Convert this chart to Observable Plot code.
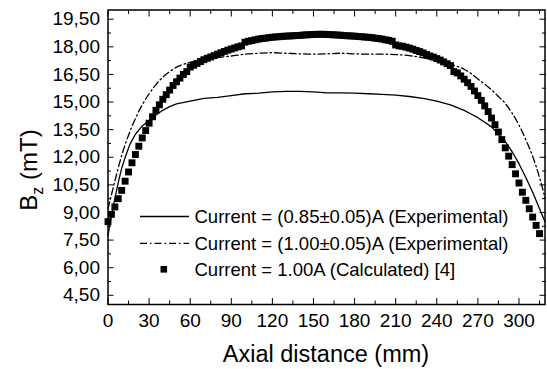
<!DOCTYPE html>
<html><head><meta charset="utf-8">
<script src="https://cdn.jsdelivr.net/npm/d3@7"></script>
<script src="https://cdn.jsdelivr.net/npm/@observablehq/plot@0.6"></script>
<style>body{margin:0;background:#fff}#chart{width:547px;height:369px}</style>
</head><body><div id="chart"></div>
<script>
// Calculated, 1.00 A [4]
const calcX = [0,2.5,5,7.5,10,12.5,15,17.5,20,22.5,25,27.5,30,32.5,35,37.5,40,42.5,45,47.5,50,52.5,55,57.5,60,62.5,65,67.5,70,72.5,75,77.5,80,82.5,85,87.5,90,92.5,95,97.5,
  100,102.5,105,107.5,110,112.5,115,117.5,120,122.5,125,127.5,130,132.5,135,137.5,140,142.5,145,147.5,150,152.5,155,157.5,160,162.5,165,167.5,170,172.5,175,177.5,180,182.5,185,187.5,190,192.5,195,197.5,200,202.5,205,207.5,210,
  212.5,215,217.5,220,222.5,225,227.5,230,232.5,235,237.5,240,242.5,245,247.5,250,252.5,255,257.5,260,262.5,265,267.5,270,272.5,275,277.5,280,282.5,285,287.5,290,292.5,295,297.5,300,302.5,305,307.5,310,312.5,315];
const calcY = [8.5,8.9,9.3,9.75,10.2,10.7,11.2,11.7,12.15,12.6,13.05,13.45,13.85,14.2,14.55,14.85,15.15,15.4,15.65,15.9,16.1,16.3,16.5,16.65,16.9,17.0,17.1,17.2,17.3,17.38,17.45,17.52,17.6,17.68,17.75,17.82,17.88,17.94,18.0,18.05,
  18.25,18.3,18.34,18.38,18.42,18.45,18.47,18.5,18.52,18.54,18.55,18.57,18.58,18.59,18.6,18.61,18.62,18.64,18.65,18.66,18.67,18.68,18.68,18.68,18.67,18.66,18.65,18.64,18.63,18.61,18.6,18.59,18.58,18.56,18.55,18.53,18.52,18.5,18.47,18.45,18.42,18.38,18.35,18.3,18.1,
  18.05,18.03,17.98,17.93,17.87,17.8,17.74,17.67,17.58,17.5,17.44,17.36,17.28,17.18,17.08,16.98,16.65,16.58,16.42,16.24,16.05,15.85,15.6,15.35,15.09,14.79,14.48,14.13,13.77,13.37,12.96,12.51,12.06,11.6,11.1,10.6,10.1,9.66,9.2,8.75,8.3,7.85];
// Experimental, 0.85 A
const exp085X = [0,2,4,6,8,10,13,16,20,25,30,35,40,45,50,60,70,80,90,100,110,120,130,140,150,160,170,180,190,200,210,220,230,240,250,260,265,270,275,280,285,290,295,300,305,310,315,319];
const exp085Y = [7.75,8.6,9.4,10.1,10.8,11.4,12.1,12.7,13.25,13.7,14.0,14.3,14.55,14.75,14.9,15.05,15.2,15.25,15.35,15.45,15.48,15.55,15.58,15.58,15.55,15.5,15.5,15.48,15.45,15.42,15.38,15.3,15.2,15.05,14.85,14.55,14.35,14.15,13.9,13.65,13.25,12.85,12.3,11.65,10.9,10.1,9.2,8.5];
// Experimental, 1.00 A
const exp100X = [0,3,6,10,15,20,25,30,35,40,45,50,55,60,70,80,90,100,110,120,130,140,150,160,170,180,190,200,210,220,230,240,250,260,265,270,275,280,285,290,295,300,305,310,315,319];
const exp100Y = [9.2,10.1,11.0,12.1,13.2,14.1,14.85,15.45,15.95,16.35,16.65,16.9,17.05,17.15,17.3,17.42,17.5,17.6,17.65,17.68,17.65,17.62,17.6,17.62,17.65,17.62,17.6,17.6,17.58,17.52,17.4,17.25,17.05,16.78,16.55,16.25,15.97,15.66,15.3,14.92,14.4,13.75,12.95,12.05,10.9,9.8];

const xTicks = [0,30,60,90,120,150,180,210,240,270,300];
const xMinor = [15,45,75,105,135,165,195,225,255,285,315];
const yTicks = [4.5,6,7.5,9,10.5,12,13.5,15,16.5,18,19.5];
const yMinor = [5.25,6.75,8.25,9.75,11.25,12.75,14.25,15.75,17.25,18.75];

const legendLabels = [
  "Current = (0.85\u00B10.05)A (Experimental)",
  "Current = (1.00\u00B10.05)A (Experimental)",
  "Current = 1.00A (Calculated) [4]"
];
const xTitle = "Axial distance (mm)";

const calc = calcX.map((x, i) => ({x, y: calcY[i]}));
const e085 = exp085X.map((x, i) => ({x, y: exp085Y[i]}));
const e100 = exp100X.map((x, i) => ({x, y: exp100Y[i]}));
const fmtY = d => d.toFixed(2).replace(".", ",");
const blank = () => "";
const FONT = "'Liberation Sans', Arial, sans-serif";

const plot = Plot.plot({
  width: 547, height: 369,
  marginLeft: 107.5, marginRight: 2.5, marginTop: 9.5, marginBottom: 65,
  style: {fontFamily: FONT, fontSize: "19px", color: "#000", background: "#fff"},
  x: {domain: [0, 319]},
  y: {domain: [4, 20]},
  marks: [
    Plot.line(e085, {x: "x", y: "y", stroke: "#000", strokeWidth: 1.3}),
    Plot.line(e100, {x: "x", y: "y", stroke: "#000", strokeWidth: 1.3, strokeDasharray: "7,3,1.5,3", curve: "monotone-x"}),
    Plot.dot(calc, {x: "x", y: "y", symbol: "square", r: 3.9, fill: "#000", stroke: "none"}),
    Plot.axisX(xTicks, {anchor: "bottom", tickSize: -6, tickPadding: 15, tickFormat: d => String(d), label: null, fontSize: 19}),
    Plot.axisX(xMinor, {anchor: "bottom", tickSize: -3.5, tickFormat: blank, label: null}),
    Plot.axisX(xTicks, {anchor: "top", tickSize: -6, tickFormat: blank, label: null}),
    Plot.axisX(xMinor, {anchor: "top", tickSize: -3.5, tickFormat: blank, label: null}),
    Plot.axisY(yTicks, {anchor: "left", tickSize: -6, tickPadding: 14, tickFormat: fmtY, label: null, fontSize: 19}),
    Plot.axisY(yMinor, {anchor: "left", tickSize: -3.5, tickFormat: blank, label: null}),
    Plot.axisY(yTicks, {anchor: "right", tickSize: -6, tickFormat: blank, label: null}),
    Plot.axisY(yMinor, {anchor: "right", tickSize: -3.5, tickFormat: blank, label: null}),
    Plot.frame({stroke: "#000", strokeWidth: 1.5})
  ]
});
document.getElementById("chart").appendChild(plot);

const svg = d3.select(plot);
// x title
svg.append("text").attr("x", 326).attr("y", 362).attr("text-anchor", "middle")
  .attr("font-family", FONT).attr("font-size", 23.5).attr("fill", "#000").text(xTitle);
// y title
const yt = svg.append("text").attr("transform", "translate(37,170) rotate(-90)")
  .attr("text-anchor", "middle").attr("font-family", FONT).attr("font-size", 24).attr("fill", "#000");
yt.append("tspan").text("B");
yt.append("tspan").attr("font-size", 16).attr("dy", 6).text("z");
yt.append("tspan").attr("dy", -6).text(" (mT)");
// legend
const lg = svg.append("g").attr("font-family", FONT).attr("font-size", 18.5).attr("fill", "#000").attr("text-anchor", "start");
const rows = [216.5, 243.3, 269.3];
lg.append("line").attr("x1", 140).attr("x2", 189).attr("y1", rows[0]).attr("y2", rows[0]).attr("stroke", "#000").attr("stroke-width", 1.3);
lg.append("line").attr("x1", 140).attr("x2", 189).attr("y1", rows[1]).attr("y2", rows[1]).attr("stroke", "#000").attr("stroke-width", 1.3).attr("stroke-dasharray", "7,3,1.5,3");
lg.append("rect").attr("x", 160.5).attr("y", rows[2] - 3.3).attr("width", 6.6).attr("height", 6.6).attr("fill", "#000");
legendLabels.forEach((t, i) => {
  lg.append("text").attr("x", 194.5).attr("y", rows[i]).attr("dy", "0.36em").attr("text-anchor", "start").text(t);
});
</script>
</body></html>
